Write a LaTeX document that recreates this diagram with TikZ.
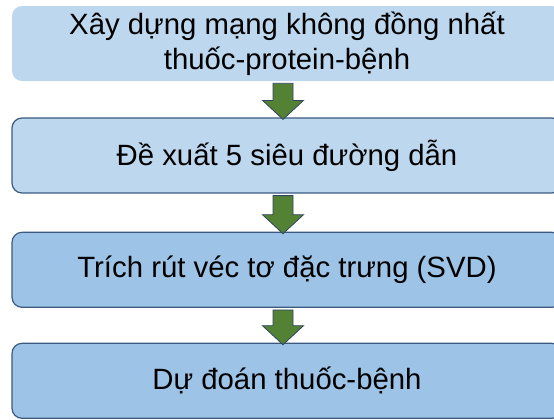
\documentclass[tikz,border=0pt]{standalone}
\usepackage{fontspec}
\setmainfont{Liberation Sans}
\usetikzlibrary{calc}
\definecolor{boxlight}{HTML}{BDD7EE}
\definecolor{boxmid}{HTML}{9DC3E6}
\definecolor{boxline}{HTML}{3A5A80}
\definecolor{arrowfill}{HTML}{548235}
\definecolor{arrowline}{HTML}{2F4560}
\begin{document}
\begin{tikzpicture}[x=0.75pt,y=0.75pt,yscale=-1,xscale=1,
  stage/.style={rounded corners=7.5pt,minimum width=412.5pt,minimum height=56.25pt,
    inner sep=0pt,align=center,font=\fontsize{22}{26}\selectfont},
  flow/.style={draw=arrowline,line width=0.6pt,fill=arrowfill}]
\useasboundingbox (0,0) rectangle (554,419);
%Stage boxes
\node [stage,fill=boxlight] (b1) at (287,43.5) {Xây dựng mạng không đồng nhất\\thuốc-protein-bệnh};
\node [stage,fill=boxlight,draw=boxline,line width=0.9pt] (b2) at (287,155.5) {Đề xuất 5 siêu đường dẫn};
\node [stage,fill=boxmid,draw=boxline,line width=0.9pt] (b3) at (287,269.8) {Trích rút véc tơ đặc trưng (SVD)};
\node [stage,fill=boxmid,draw=boxline,line width=0.9pt] (b4) at (287,380.8) {Dự đoán thuốc-bệnh};
%Block arrows
\foreach \a/\b in {b1/b2,b2/b3,b3/b4}
  \draw [flow] ($(\a.south)+(-14,2)$) -- ($(\a.south)+(6,2)$) -- ($(\b.north)+(6,-17)$)
    -- ($(\b.north)+(16.5,-17)$) -- ($(\b.north)+(-4,2)$) -- ($(\b.north)+(-24.5,-17)$)
    -- ($(\b.north)+(-14,-17)$) -- cycle;
\end{tikzpicture}
\end{document}
